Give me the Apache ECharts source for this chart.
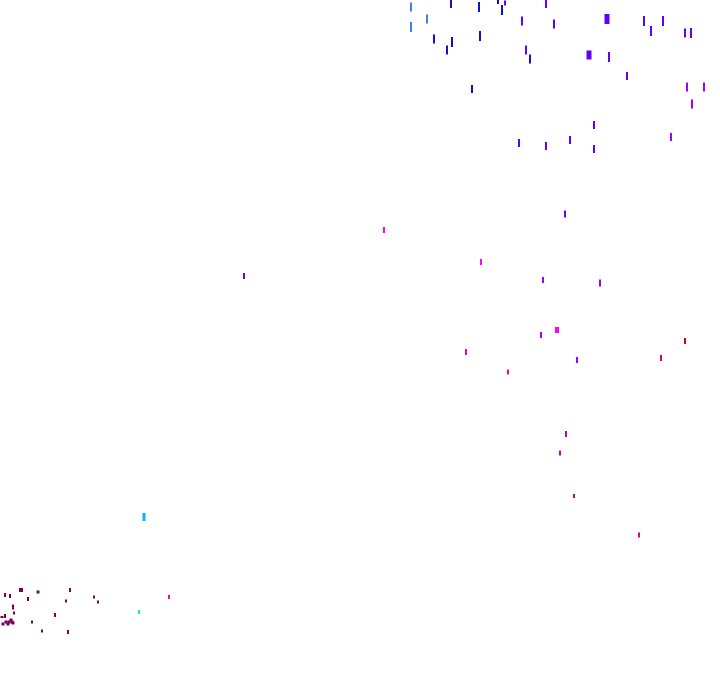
<!DOCTYPE html>
<html>
<head>
<meta charset="utf-8">
<script src="https://cdn.jsdelivr.net/npm/echarts@6/dist/echarts.min.js"></script>
<style>html,body{margin:0;padding:0;background:#fff}#c{width:720px;height:692px}</style>
</head>
<body>
<div id="c"></div>
<script>
// Point values: x, y, mark length, mark weight, colour level
const xs = [411,427,411, 451,479,498,502,434,452,447,480,530,472,
  505,526,522,546,554,607,589,609,627,644,663,651,685,691,
  687,704,692,
  519,546,570,594,594,671,565,244,
  384,481,
  543,600,541,557,685,577,466,508,661,
  566,560,574,639,
  144,139,169,
  21,5,10,28,38,70,66,94,98,55,32,42,68,
  13,14,5,2,11,6,9,12,3,13,8];
const ys = [7,19,27, 4,7,2,10,39,42,50,36,59,89,
  3,50,21,4,24,19,55,57,76,21,21,31,33,33,
  87,87,104,
  143,146,140,125,149,137,214,276,
  230,262,
  280,283,335,330,341,360,352,372,358,
  434,453,496,535,
  517,612,597,
  590,595,596,599,592,590,601,597,602,615,622,631,632,
  607,613,616,617,620,622,622,622,624,623,624];
const lens = [9,9,10, 8,10,4,10,9,10,9,10,9,8,
  5,9,9,8,9,10,9,10,8,10,10,10,9,10,
  9,9,9,
  8,8,8,8,8,8,7,6,
  6,6,
  6,7,6,6,6,6,6,5,6,
  6,5,4,5,
  8,4,4,
  4,4,4,4,3,4,3,3,3,4,3,3,4,
  5,3,4,2,3,3,3,3,3,3,3];
const weights = [2,2,2, 2,2,2,2,2,2,2,2,2,2,
  2,2,2,2,2,5,5,2,2,2,2,2,2,2,
  2,2,2,
  2,2,2,2,2,2,2,2,
  2,2,
  2,2,2,4,2,2,2,2,2,
  2,2,2,2,
  3,2,2,
  4,2,2,2,3,2,2,2,2,2,2,2,2,
  2,2,2,3,3,3,3,3,3,3,3];
const levels = [8,8,8, 7,7,7,7,7,7,7,7,7,7,
  6,6,6,6,6,6,6,6,6,6,6,6,6,6,
  5,5,5,
  6,6,6,6,6,5,6,6,
  4,4,
  5,5,5,4,3,5,2,2,1,
  1,1,1,1,
  9,10,2,
  0,0,0,0,0,0,0,0,0,0,0,0,0,
  0,0,0,0,0,0,0,0,0,0,0];
const palette = ['#7a0054','#d0008c','#ff0099','#d80010','#ff00ff','#a000ff','#6000ff','#1010d0','#3a80f0','#00b4ff','#00ff88'];

const data = xs.map((x, i) => [x, ys[i], lens[i], weights[i], levels[i]]);

const chart = echarts.init(document.getElementById('c'), null, {renderer: 'canvas'});
chart.setOption({
  animation: false,
  backgroundColor: '#ffffff',
  grid: {left: 0, right: 0, top: 0, bottom: 0},
  xAxis: {type: 'value', min: 0, max: 720, show: false},
  yAxis: {type: 'value', min: 0, max: 692, inverse: true, show: false},
  visualMap: {
    show: false,
    type: 'piecewise',
    dimension: 4,
    pieces: palette.map((c, i) => ({value: i, color: c}))
  },
  series: [{
    type: 'scatter',
    symbol: 'rect',
    symbolSize: (v) => [v[3], v[2]],
    data: data,
    itemStyle: {opacity: 1},
    emphasis: {disabled: true}
  }]
});
</script>
</body>
</html>
